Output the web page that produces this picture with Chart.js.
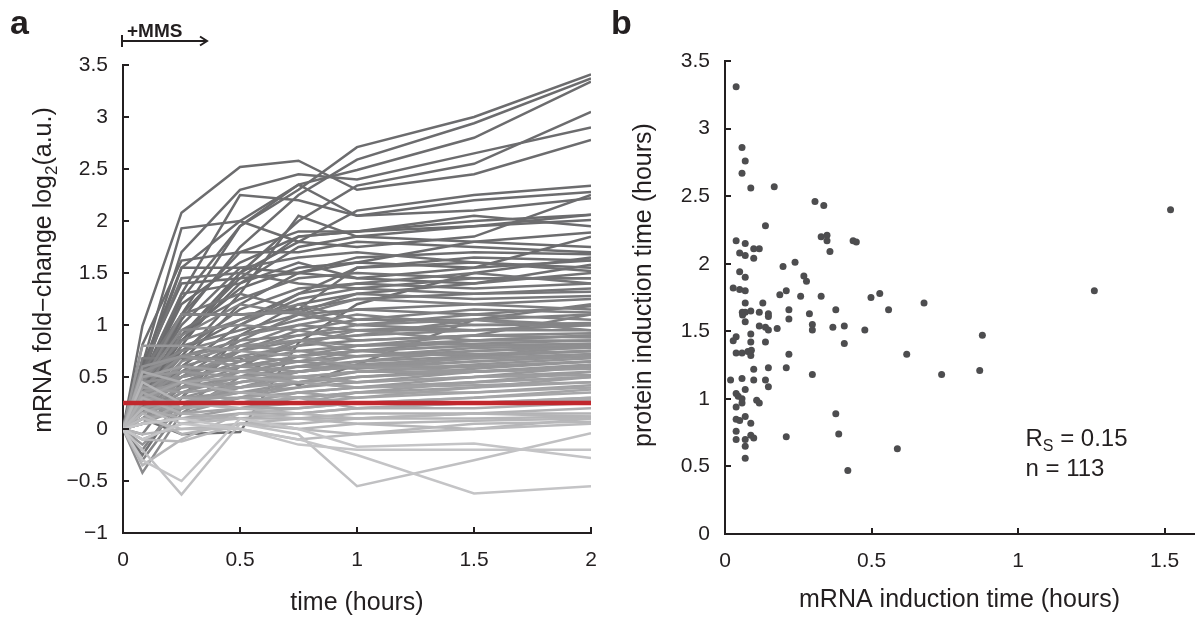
<!DOCTYPE html>
<html>
<head>
<meta charset="utf-8">
<script src="https://cdn.jsdelivr.net/npm/chart.js@4.4.1/dist/chart.umd.min.js"></script>
<style>
  body { margin: 0; background: #fff; }
  #wrap { position: relative; width: 1198px; height: 619px; }
  #panelA { position: absolute; left: 0; top: 0; }
  #panelB { position: absolute; left: 610px; top: 0; }
</style>
</head>
<body>
<div id="wrap">
  <canvas id="panelA" width="610" height="619"></canvas>
  <canvas id="panelB" width="588" height="619"></canvas>
</div>
<script>
// ---- panel a: mRNA time courses (log2 fold-change) ----
const timePoints = [0, 0.083, 0.25, 0.5, 0.75, 1, 1.5, 2];
const mrnaTraces = [
  [0, 0.45, 1.25, 1.95, 2.30, 2.71, 3.00, 3.41],
  [0, 0.35, 1.05, 1.75, 2.25, 2.59, 2.94, 3.37],
  [0, 0.60, 1.55, 2.00, 2.35, 2.49, 2.80, 3.34],
  [0, 0.30, 0.90, 1.50, 2.00, 2.34, 2.55, 3.05],
  [0, 0.55, 1.70, 2.30, 2.45, 2.40, 2.65, 2.90],
  [0, 0.99, 2.08, 2.52, 2.58, 2.30, 2.45, 2.78],
  [0, 0.62, 1.93, 2.00, 1.80, 2.10, 2.25, 2.34],
  [0, 0.40, 1.30, 2.25, 2.20, 2.05, 2.20, 2.28],
  [0, 0.30, 1.10, 1.95, 2.35, 2.05, 2.10, 2.22],
  [0, 0.81, 1.62, 1.70, 1.90, 1.90, 2.00, 2.06],
  [0, 0.30, 0.70, 1.30, 2.05, 1.85, 1.95, 2.01],
  [0, 0.50, 1.55, 1.55, 1.50, 1.60, 1.80, 1.89],
  [0, 0.20, 0.80, 1.50, 1.80, 1.75, 1.85, 2.25],
  [0, 0.30, 1.10, 1.70, 1.70, 1.80, 1.75, 1.70],
  [0, 0.60, 1.40, 1.45, 1.85, 1.90, 2.05, 1.95],
  [0, 0.50, 1.10, 1.10, 1.15, 1.55, 1.65, 1.62],
  [0, 0.10, -0.05, -0.03, 0.83, 1.20, 1.50, 1.65],
  [0, 0.40, 1.00, 1.55, 1.65, 1.70, 1.60, 1.52],
  [0, 0.20, 0.90, 1.35, 1.55, 1.60, 1.55, 1.85],
  [0, 0.50, 1.30, 1.40, 1.60, 1.45, 1.40, 1.58],
  [0, 0.35, 0.95, 1.25, 1.45, 1.50, 1.45, 1.45],
  [0, 0.25, 0.75, 1.15, 1.35, 1.40, 1.50, 1.40],
  [0, 0.40, 1.10, 1.30, 1.15, 1.25, 1.30, 1.35],
  [0, 0.15, 0.60, 1.00, 1.25, 1.35, 1.30, 1.32],
  [0, 0.55, 1.10, 1.10, 1.12, 1.30, 1.25, 1.28],
  [0, 0.30, 0.80, 0.95, 1.10, 1.15, 1.20, 1.25],
  [0, 0.68, 0.68, 0.68, 0.42, 0.62, 1.05, 1.20],
  [0, 0.20, 0.55, 0.90, 1.05, 1.15, 1.10, 1.18],
  [0, 0.45, 0.85, 1.05, 1.20, 1.05, 1.15, 1.12],
  [0, 0.10, 0.40, 0.75, 0.95, 1.05, 1.05, 1.10],
  [0, 0.35, 0.90, 1.20, 1.10, 1.00, 1.10, 1.05],
  [0, -0.20, 0.30, 0.80, 1.00, 1.10, 1.00, 1.02],
  [0, 0.25, 0.70, 0.85, 0.90, 0.95, 1.00, 1.00],
  [0, 0.55, 0.75, 0.90, 1.00, 0.95, 0.95, 1.00],
  [0, -0.30, 0.20, 0.60, 0.85, 0.90, 1.05, 1.00],
  [0, 0.30, 0.60, 0.75, 0.85, 0.90, 0.95, 0.95],
  [0, 0.45, 0.95, 1.00, 0.95, 0.85, 0.90, 0.92],
  [0, 0.15, 0.50, 0.70, 0.80, 0.95, 0.85, 0.90],
  [0, 0.20, 0.45, 0.65, 0.85, 0.80, 0.90, 0.88],
  [0, 0.40, 0.70, 0.80, 0.75, 0.80, 0.82, 0.85],
  [0, -0.42, 0.15, 0.50, 0.70, 0.80, 0.85, 0.85],
  [0, 0.25, 0.50, 0.60, 0.70, 0.75, 0.80, 0.82],
  [0, 0.55, 0.70, 0.65, 0.75, 0.70, 0.78, 0.80],
  [0, 0.10, 0.35, 0.55, 0.65, 0.70, 0.75, 0.80],
  [0, 0.30, 0.55, 0.70, 0.65, 0.75, 0.70, 0.80],
  [0, 0.20, 0.40, 0.50, 0.60, 0.65, 0.75, 0.78],
  [0, 0.35, 0.60, 0.55, 0.60, 0.70, 0.72, 0.75],
  [0, 0.05, 0.30, 0.45, 0.55, 0.65, 0.70, 0.75],
  [0, 0.45, 0.50, 0.60, 0.65, 0.60, 0.70, 0.75],
  [0, 0.15, 0.35, 0.50, 0.55, 0.62, 0.68, 0.72],
  [0, 0.25, 0.45, 0.55, 0.60, 0.58, 0.65, 0.70],
  [0, -0.15, 0.20, 0.40, 0.55, 0.60, 0.68, 0.70],
  [0, 0.60, 0.70, 0.60, 0.55, 0.60, 0.65, 0.70],
  [0, 0.10, 0.25, 0.40, 0.50, 0.55, 0.62, 0.68],
  [0, 0.30, 0.40, 0.45, 0.55, 0.60, 0.60, 0.65],
  [0, 0.20, 0.30, 0.35, 0.45, 0.55, 0.60, 0.65],
  [0, 0.50, 0.55, 0.50, 0.45, 0.50, 0.58, 0.65],
  [0, 0.05, 0.20, 0.30, 0.45, 0.50, 0.55, 0.62],
  [0, 0.35, 0.45, 0.40, 0.50, 0.45, 0.55, 0.60],
  [0, 0.15, 0.25, 0.35, 0.40, 0.50, 0.55, 0.60],
  [0, 0.25, 0.15, 0.30, 0.40, 0.45, 0.50, 0.60],
  [0, 0.40, 0.35, 0.40, 0.45, 0.40, 0.50, 0.55],
  [0, 0.10, 0.20, 0.25, 0.35, 0.40, 0.45, 0.55],
  [0, 0.20, 0.30, 0.30, 0.35, 0.40, 0.45, 0.50],
  [0, 0.30, 0.25, 0.35, 0.30, 0.35, 0.45, 0.50],
  [0, 0.05, 0.10, 0.20, 0.30, 0.35, 0.40, 0.50],
  [0, 0.15, 0.30, 0.25, 0.35, 0.30, 0.40, 0.45],
  [0, 0.25, 0.20, 0.30, 0.25, 0.35, 0.35, 0.42],
  [0, 0.10, 0.15, 0.20, 0.25, 0.30, 0.35, 0.40],
  [0, 0.35, 0.20, 0.25, 0.30, 0.25, 0.30, 0.38],
  [0, 0.05, 0.25, 0.20, 0.20, 0.25, 0.30, 0.35],
  [0, 0.20, 0.10, 0.15, 0.20, 0.25, 0.25, 0.30],
  [0, -0.10, 0.05, 0.15, 0.15, 0.20, 0.25, 0.28],
  [0, 0.30, 0.15, 0.10, 0.15, 0.20, 0.20, 0.25],
  [0, 0.05, 0.10, 0.10, 0.10, 0.15, 0.15, 0.20],
  [0, 0.15, -0.05, 0.05, 0.10, 0.10, 0.15, 0.15],
  [0, -0.05, 0.00, 0.05, 0.05, 0.10, 0.10, 0.12],
  [0, 0.20, 0.05, 0.10, 0.00, 0.05, 0.08, 0.10],
  [0, -0.10, -0.12, 0.05, 0.00, -0.05, 0.05, 0.07],
  [0, 0.10, 0.00, 0.00, -0.10, -0.05, 0.00, 0.05],
  [0, -0.30, -0.50, 0.10, 0.00, -0.17, -0.14, -0.28],
  [0, -0.20, -0.63, 0.05, -0.05, -0.55, -0.30, -0.04],
  [0, 0.05, 0.10, 0.00, -0.10, -0.25, -0.62, -0.55],
  [0, -0.10, 0.05, 0.00, -0.15, -0.20, -0.20, -0.20],
  [0, -0.35, -0.10, 0.15, 0.10, 0.05, 0.00, 0.10],
  [0, 0.45, 0.25, 0.20, 0.15, 0.10, 0.15, 0.12],
  [0, 0.55, 0.45, 0.35, 0.30, 0.20, 0.25, 0.30],
  [0, 0.80, 0.80, 0.75, 0.70, 0.60, 0.55, 0.60],
  [0, -0.25, 0.30, 0.90, 1.20, 1.30, 1.40, 1.50],
  [0, 0.20, 0.60, 1.00, 1.30, 1.40, 1.35, 1.40],
  [0, 0.45, 1.10, 1.10, 1.13, 1.00, 0.95, 1.00],
  [0, -0.05, 0.45, 0.65, 0.80, 0.85, 0.90, 1.10],
  [0, 0.35, 0.50, 0.75, 0.90, 1.00, 1.05, 0.95],
  [0, 0.25, 0.65, 0.80, 0.85, 0.75, 0.80, 0.82],
  [0, 0.15, 0.40, 0.60, 0.70, 0.75, 0.85, 0.90],
  [0, 0.50, 0.60, 0.55, 0.50, 0.45, 0.50, 0.52],
  [0, 0.10, 0.20, 0.45, 0.50, 0.55, 0.55, 0.58],
  [0, 0.30, 0.45, 0.50, 0.45, 0.40, 0.42, 0.45],
  [0, 0.25, 0.50, 0.85, 1.10, 1.25, 1.20, 1.15],
  [0, 0.40, 0.90, 1.45, 1.50, 1.45, 1.55, 1.62],
  [0, 0.30, 0.85, 1.40, 1.75, 1.85, 1.80, 1.75],
  [0, 0.45, 1.20, 1.60, 1.85, 1.90, 1.95, 2.06],
  [0, 0.20, 0.65, 1.20, 1.50, 1.65, 1.70, 1.68],
  [0, 0.35, 0.75, 1.05, 1.30, 1.55, 1.60, 1.55],
  [0, 0.55, 1.45, 1.50, 1.40, 1.35, 1.45, 1.45]
];
const inductionThreshold = 0.25;
const timeTicks = [0, 0.5, 1, 1.5, 2];
const foldTicks = [-1, -0.5, 0, 0.5, 1, 1.5, 2, 2.5, 3, 3.5];

// ---- panel b: induction times ----
const mrnaInduction = [
  0.038, 0.058, 0.069, 0.058, 0.088, 0.168, 0.307, 0.337, 0.138, 0.038,
  0.069, 0.117, 0.098, 0.098, 0.050, 0.069, 0.328, 0.348, 0.348, 0.358,
  0.437, 0.448, 0.050, 0.069, 0.198, 0.239, 0.269, 0.278, 0.028, 0.050,
  0.069, 0.209, 0.187, 0.258, 0.328, 0.498, 0.528, 0.558, 0.069, 0.129,
  0.059, 0.069, 0.088, 0.117, 0.148, 0.148, 0.218, 0.218, 0.288, 0.378,
  0.069, 0.117, 0.138, 0.148, 0.178, 0.298, 0.298, 0.368, 0.407, 0.477,
  0.038, 0.028, 0.088, 0.088, 0.138, 0.407, 0.038, 0.058, 0.078, 0.088,
  0.218, 0.098, 0.148, 0.209, 0.019, 0.058, 0.098, 0.138, 0.148, 0.298,
  0.069, 0.038, 0.058, 0.058, 0.108, 0.117, 0.038, 0.038, 0.050, 0.069,
  0.088, 0.378, 0.038, 0.038, 0.069, 0.069, 0.088, 0.098, 0.209, 0.388,
  0.069, 0.419, 0.679, 0.620, 0.878, 0.739, 0.869, 0.588, 1.260, 1.520,
  0.060, 0.090, 0.045
];
const proteinInduction = [
  3.31, 2.86, 2.76, 2.67, 2.56, 2.57, 2.46, 2.43, 2.28, 2.17,
  2.15, 2.11, 2.11, 2.04, 2.08, 2.06, 2.20, 2.21, 2.17, 2.09,
  2.17, 2.16, 1.94, 1.90, 1.98, 2.01, 1.91, 1.87, 1.82, 1.81,
  1.80, 1.80, 1.77, 1.76, 1.76, 1.75, 1.78, 1.66, 1.71, 1.71,
  1.64, 1.64, 1.65, 1.64, 1.63, 1.61, 1.66, 1.59, 1.63, 1.66,
  1.57, 1.54, 1.53, 1.51, 1.52, 1.55, 1.51, 1.53, 1.54, 1.51,
  1.46, 1.43, 1.48, 1.42, 1.42, 1.41, 1.34, 1.34, 1.35, 1.32,
  1.33, 1.22, 1.23, 1.23, 1.14, 1.15, 1.14, 1.14, 1.09, 1.18,
  1.07, 1.04, 1.00, 0.97, 0.99, 0.97, 0.94, 0.85, 0.84, 0.87,
  0.82, 0.89, 0.76, 0.70, 0.70, 0.65, 0.73, 0.71, 0.72, 0.74,
  0.56, 0.47, 1.71, 1.33, 1.47, 1.18, 1.21, 0.63, 1.80, 2.40,
  1.62, 1.36, 1.02
];
const inductionTicksX = [0, 0.5, 1, 1.5];
const inductionTicksY = [0, 0.5, 1, 1.5, 2, 2.5, 3, 3.5];

const ink = '#231f20';
const fontFamily = '"Liberation Sans", Arial, Helvetica, sans-serif';
Chart.defaults.font.family = fontFamily;
Chart.defaults.color = ink;

function tickLabel(v) {
    return v < 0 ? '\u2212' + Math.abs(v) : String(v);
}

// darker grey for higher final fold-change
function traceColor(trace) {
    const last = trace[trace.length - 1];
    const f = Math.max(0, Math.min(1, (last + 0.1) / 1.9));
    const g = Math.round(108 + 88 * Math.pow(1 - f, 1.5));
    return `rgb(${g},${g},${g + 2})`;
}

function axisOptions(min, max, tickValues, fitKey, fitSize) {
    return {
        type: 'linear',
        min: min,
        max: max,
        grid: { display: false },
        border: { display: true, color: ink, width: 2 },
        ticks: {
            color: ink,
            font: { size: 21 },
            padding: 7,
            callback: (v) => tickLabel(v)
        },
        afterBuildTicks: (scale) => {
            scale.ticks = tickValues.map(v => ({ value: v }));
        },
        afterFit: (scale) => {
            scale[fitKey] = fitSize;
        }
    };
}

// ticks pointing into the plot, matlab style
const innerTicks = {
    id: 'innerTicks',
    afterDraw(chart) {
        const { ctx, chartArea, scales: { x, y } } = chart;
        ctx.save();
        ctx.strokeStyle = ink;
        ctx.lineWidth = 2;
        x.ticks.forEach((t) => {
            const px = Math.round(x.getPixelForValue(t.value));
            ctx.beginPath();
            ctx.moveTo(px, chartArea.bottom);
            ctx.lineTo(px, chartArea.bottom - 6);
            ctx.stroke();
        });
        y.ticks.forEach((t) => {
            const py = Math.round(y.getPixelForValue(t.value));
            ctx.beginPath();
            ctx.moveTo(chartArea.left, py);
            ctx.lineTo(chartArea.left + 6, py);
            ctx.stroke();
        });
        ctx.restore();
    }
};

// rotated y title, parts = [[text, sizePx, baselineShift], ...]
function drawVerticalTitle(ctx, parts, cx, cy) {
    ctx.save();
    ctx.fillStyle = ink;
    ctx.translate(cx, cy);
    ctx.rotate(-Math.PI / 2);
    ctx.textBaseline = 'alphabetic';
    ctx.textAlign = 'left';
    let total = 0;
    parts.forEach(([txt, size]) => {
        ctx.font = `${size}px ${fontFamily}`;
        total += ctx.measureText(txt).width;
    });
    let pos = -total / 2;
    parts.forEach(([txt, size, shift]) => {
        ctx.font = `${size}px ${fontFamily}`;
        ctx.fillText(txt, pos, shift);
        pos += ctx.measureText(txt).width;
    });
    ctx.restore();
}

const panelAText = {
    id: 'panelAText',
    afterDraw(chart) {
        const { ctx, chartArea } = chart;
        ctx.save();
        ctx.fillStyle = ink;
        ctx.strokeStyle = ink;

        ctx.font = `bold 34px ${fontFamily}`;
        ctx.textBaseline = 'alphabetic';
        ctx.fillText('a', 10, 34);

        // +MMS arrow
        ctx.font = `bold 19px ${fontFamily}`;
        ctx.fillText('+MMS', 127, 37);
        ctx.lineWidth = 2;
        ctx.beginPath();
        ctx.moveTo(chartArea.left - 1, 35);
        ctx.lineTo(chartArea.left - 1, 47);
        ctx.moveTo(chartArea.left - 1, 41);
        ctx.lineTo(207, 41);
        ctx.moveTo(200, 36.5);
        ctx.lineTo(207, 41);
        ctx.lineTo(200, 45.5);
        ctx.stroke();

        // x title
        ctx.font = `25px ${fontFamily}`;
        ctx.textAlign = 'center';
        ctx.textBaseline = 'middle';
        ctx.fillText('time (hours)', (chartArea.left + chartArea.right) / 2, 603);
        ctx.restore();

        drawVerticalTitle(ctx, [
            ['mRNA fold\u2212change log', 25, 0],
            ['2', 17, 6],
            ['(a.u.)', 25, 0]
        ], 51, 270);
    }
};

const panelBText = {
    id: 'panelBText',
    afterDraw(chart) {
        const { ctx, chartArea, scales: { x, y } } = chart;
        ctx.save();
        ctx.fillStyle = ink;

        ctx.font = `bold 34px ${fontFamily}`;
        ctx.textBaseline = 'alphabetic';
        ctx.fillText('b', 1, 34);

        ctx.font = `25px ${fontFamily}`;
        ctx.textAlign = 'center';
        ctx.textBaseline = 'middle';
        ctx.fillText('mRNA induction time (hours)', (chartArea.left + chartArea.right) / 2, 600);

        // correlation note
        ctx.textAlign = 'left';
        ctx.textBaseline = 'alphabetic';
        const tx = x.getPixelForValue(1.025);
        const ty = y.getPixelForValue(0.65);
        ctx.font = `24px ${fontFamily}`;
        ctx.fillText('R', tx, ty);
        let w = ctx.measureText('R').width;
        ctx.font = `16px ${fontFamily}`;
        ctx.fillText('S', tx + w, ty + 5);
        w += ctx.measureText('S').width;
        ctx.font = `24px ${fontFamily}`;
        ctx.fillText(' = 0.15', tx + w, ty);
        ctx.fillText('n = 113', tx, ty + 30);
        ctx.restore();

        drawVerticalTitle(ctx, [['protein induction time (hours)', 25, 0]], 41, 285);
    }
};

// ---- chart a ----
const traceSets = mrnaTraces
    .map((trace) => ({
        data: trace.map((v, i) => ({ x: timePoints[i], y: v })),
        borderColor: traceColor(trace),
        last: trace[trace.length - 1]
    }))
    .sort((a, b) => a.last - b.last)
    .map((d) => ({
        data: d.data,
        borderColor: d.borderColor,
        borderWidth: 2.5,
        pointRadius: 0,
        tension: 0,
        fill: false
    }));

const thresholdSet = {
    data: [
        { x: timePoints[0], y: inductionThreshold },
        { x: timePoints[timePoints.length - 1], y: inductionThreshold }
    ],
    borderColor: '#c1272d',
    borderWidth: 4.5,
    pointRadius: 0,
    fill: false
};

new Chart(document.getElementById('panelA'), {
    type: 'line',
    data: { datasets: [thresholdSet, ...traceSets] },
    options: {
        responsive: false,
        animation: false,
        devicePixelRatio: 1,
        layout: { padding: { top: 65, right: 19, bottom: 0, left: 0 } },
        plugins: { legend: { display: false }, tooltip: { enabled: false } },
        scales: {
            x: axisOptions(0, 2, timeTicks, 'height', 86),
            y: axisOptions(-1, 3.5, foldTicks, 'width', 123)
        }
    },
    plugins: [innerTicks, panelAText]
});

// ---- chart b ----
new Chart(document.getElementById('panelB'), {
    type: 'scatter',
    data: {
        datasets: [{
            data: mrnaInduction.map((v, i) => ({ x: v, y: proteinInduction[i] })),
            backgroundColor: '#4d4d4f',
            borderWidth: 0,
            pointRadius: 3.5
        }]
    },
    options: {
        responsive: false,
        animation: false,
        devicePixelRatio: 1,
        layout: { padding: { top: 61, right: 1, bottom: 0, left: 0 } },
        plugins: { legend: { display: false }, tooltip: { enabled: false } },
        scales: {
            x: axisOptions(0, 1.6, inductionTicksX, 'height', 85),
            y: axisOptions(0, 3.5, inductionTicksY, 'width', 115)
        }
    },
    plugins: [innerTicks, panelBText]
});
</script>
</body>
</html>
